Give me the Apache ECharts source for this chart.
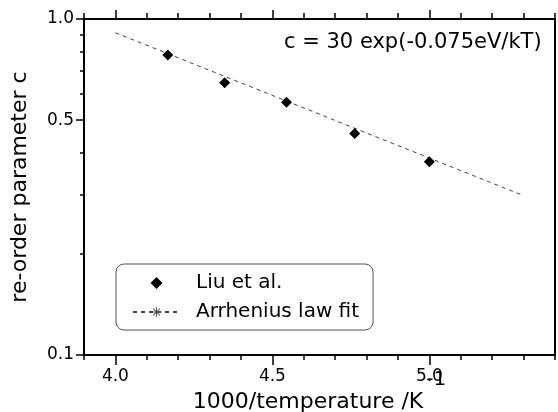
<!DOCTYPE html>
<html>
<head>
<meta charset="utf-8">
<script src="https://cdn.jsdelivr.net/npm/echarts@6/dist/echarts.min.js"></script>
<style>html,body{margin:0;padding:0;background:#fff}#c{width:558px;height:412px}</style>
</head>
<body>
<div id="c"></div>
<script>
// Data
const liuX = [4.167, 4.348, 4.545, 4.762, 5.0];
const liuY = [0.781, 0.646, 0.565, 0.456, 0.376];
const fitX = [4.0, 5.3];
const fitY = [0.91, 0.298];
const xLabels = [4.0, 4.5, 5.0];
const xMinorTicks = [3.9, 4.1, 4.2, 4.3, 4.4, 4.6, 4.7, 4.8, 4.9, 5.1, 5.2, 5.3, 5.4];
const yLabels = [0.1, 0.5, 1.0];
const yMinorTicks = [0.2, 0.3, 0.4, 0.6, 0.7, 0.8, 0.9];
const seriesNames = ['Liu et al.', 'Arrhenius law fit'];
const equationText = 'c = 30 exp(-0.075eV/kT)';

const FONT = 'DejaVu Sans';
const X_MIN = 3.9, X_MAX = 5.4, Y_MIN = 0.1, Y_MAX = 1;
const asterisk = 'path://M-0.6,-6L0.6,-6L0.6,6L-0.6,6Z M-6,-0.6L6,-0.6L6,0.6L-6,0.6Z M-4.6,-3.8L-3.8,-4.6L4.6,3.8L3.8,4.6Z M3.8,-4.6L4.6,-3.8L-3.8,4.6L-4.6,3.8Z';
const diamondIcon = 'path://M0,-5L5,0L0,5L-5,0Z';

const chart = echarts.init(document.getElementById('c'), null, {renderer: 'canvas'});

function xAxisDef(pos, showLine, ticks, len, labels) {
  return {
    type: 'value', position: pos, min: X_MIN, max: X_MAX, gridIndex: 0,
    axisLine: {show: showLine, onZero: false, lineStyle: {color: '#000', width: 2}},
    axisTick: {show: true, customValues: ticks, length: len, inside: false, lineStyle: {color: '#000', width: 1.5}},
    axisLabel: labels ? {show: true, customValues: labels, formatter: v => Number(v).toFixed(1), fontSize: 17, fontFamily: FONT, color: '#000', margin: 13} : {show: false},
    splitLine: {show: false}
  };
}
function yAxisDef(pos, showLine, ticks, len, labels) {
  return {
    type: 'log', logBase: 10, position: pos, min: Y_MIN, max: Y_MAX, gridIndex: 0,
    axisLine: {show: showLine, onZero: false, lineStyle: {color: '#000', width: 2}},
    axisTick: ticks ? {show: true, customValues: ticks, length: len, inside: false, lineStyle: {color: '#000', width: 1.5}} : {show: false},
    axisLabel: labels ? {show: true, customValues: labels, formatter: v => Number(v).toFixed(1), fontSize: 17, fontFamily: FONT, color: '#000', margin: 10} : {show: false},
    splitLine: {show: false}
  };
}

const xMain = xAxisDef('bottom', true, xLabels, 10, xLabels);
xMain.name = '1000/temperature /K{sup|-1}';
xMain.nameLocation = 'middle';
xMain.nameGap = 15;
xMain.nameMoveOverlap = false;
xMain.nameTextStyle = {
  fontSize: 22, fontFamily: FONT, color: '#000',
  rich: {sup: {fontSize: 20, fontFamily: FONT, color: '#000', padding: [0, 0, 44, 3]}}
};
const yMain = yAxisDef('left', true, yLabels, 8, yLabels);
yMain.name = 're-order parameter c';
yMain.nameLocation = 'middle';
yMain.nameGap = 53;
yMain.nameMoveOverlap = false;
yMain.nameTextStyle = {fontSize: 22, fontFamily: FONT, color: '#000'};

const option = {
  animation: false,
  backgroundColor: '#fff',
  grid: {left: 84, right: 3, top: 19, bottom: 57, containLabel: false, outerBoundsMode: 'none'},
  xAxis: [
    xMain,
    xAxisDef('bottom', false, xMinorTicks, 5, null),
    xAxisDef('top', true, xLabels, 9, null),
    xAxisDef('top', false, xMinorTicks, 6, null)
  ],
  yAxis: [
    yMain,
    yAxisDef('left', false, yMinorTicks, 4, null),
    yAxisDef('right', true, null, 0, null)
  ],
  legend: {
    orient: 'vertical', left: 116, top: 264,
    padding: [9, 14, 8, 16],
    itemWidth: 47, itemHeight: 12, itemGap: 9,
    symbolKeepAspect: true,
    borderColor: '#555', borderWidth: 1, borderRadius: 8,
    textStyle: {fontSize: 20, fontFamily: FONT, color: '#000', padding: [0, 0, 0, 11], lineHeight: 20},
    data: [
      {name: seriesNames[0], icon: diamondIcon, itemStyle: {color: '#000', opacity: 1}},
      {name: seriesNames[1]}
    ]
  },
  graphic: [{
    type: 'text', left: 284, top: 32,
    style: {text: equationText, fontSize: 21, fontFamily: FONT, fill: '#000'}
  }],
  series: [
    {
      name: seriesNames[0], type: 'scatter', xAxisIndex: 0, yAxisIndex: 0,
      symbol: 'diamond', symbolSize: 11,
      itemStyle: {color: '#000', opacity: 1},
      data: liuX.map((x, i) => [x, liuY[i]]),
      z: 3
    },
    {
      name: seriesNames[1], type: 'line', xAxisIndex: 0, yAxisIndex: 0,
      symbol: asterisk, symbolSize: 13, showSymbol: false,
      itemStyle: {color: '#555'},
      lineStyle: {color: '#444', width: 1, type: [4, 4]},
      data: fitX.map((x, i) => [x, fitY[i]]),
      z: 2
    }
  ]
};
chart.setOption(option);
</script>
</body>
</html>
